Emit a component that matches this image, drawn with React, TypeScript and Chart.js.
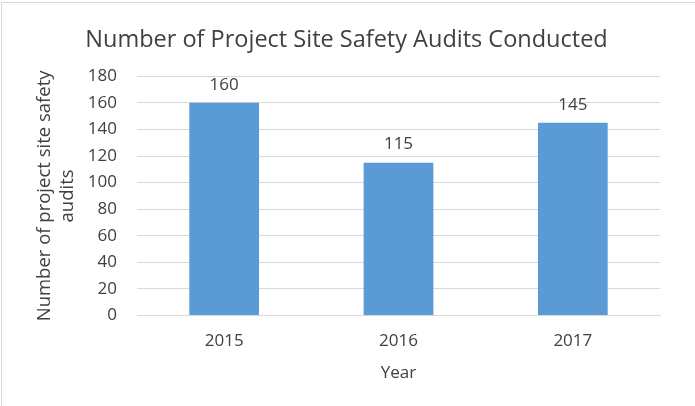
import React, { useEffect, useRef } from "react";
import { Chart, registerables } from "chart.js";

Chart.register(...registerables);

const categories = ["2015", "2016", "2017"];
const audits = [160, 115, 145];
const yTicks = [0, 20, 40, 60, 80, 100, 120, 140, 160, 180];

const FONT = "'Open Sans', 'Noto Sans', sans-serif";
const TEXT = "#404040";

const dataLabels = {
  id: "dataLabels",
  afterDatasetsDraw(chart: any) {
    const ctx = chart.ctx;
    const meta = chart.getDatasetMeta(0);
    ctx.save();
    ctx.font = `17px ${FONT}`;
    ctx.fillStyle = "#404040";
    ctx.textAlign = "center";
    ctx.textBaseline = "middle";
    meta.data.forEach((bar: any, i: number) => {
      ctx.fillText(String(audits[i]), bar.x, bar.y - 18);
    });
    ctx.restore();
  },
};

const frame = {
  id: "frame",
  beforeDraw(chart: any) {
    const ctx = chart.ctx;
    ctx.save();
    ctx.fillStyle = "#ffffff";
    ctx.fillRect(0, 0, chart.width, chart.height);
    ctx.strokeStyle = "#D9D9D9";
    ctx.lineWidth = 1;
    ctx.strokeRect(1.5, 2.5, chart.width - 1, chart.height);
    ctx.restore();
  },
};

export default function App() {
  const ref = useRef<HTMLCanvasElement>(null);
  useEffect(() => {
    if (!ref.current) return;
    const chart = new Chart(ref.current, {
      type: "bar",
      data: {
        labels: categories,
        datasets: [
          {
            data: audits,
            backgroundColor: "#5B9BD5",
            borderWidth: 0,
            categoryPercentage: 1,
            barPercentage: 0.4,
          },
        ],
      },
      options: {
        animation: false,
        responsive: false,
        layout: { padding: { left: 33, right: 35, top: 0, bottom: 24 } },
        plugins: {
          legend: { display: false },
          tooltip: { enabled: false },
          title: {
            display: true,
            text: "Number of Project Site Safety Audits Conducted",
            color: TEXT,
            font: { family: FONT, size: 23.5, weight: "normal" },
            padding: { top: 26, bottom: 22 },
          },
        },
        scales: {
          x: {
            grid: { display: false, drawTicks: false },
            border: { display: true, color: "#D9D9D9", width: 1 },
            ticks: {
              color: TEXT,
              font: { family: FONT, size: 17 },
              padding: 15,
            },
            title: {
              display: true,
              text: "Year",
              color: TEXT,
              font: { family: FONT, size: 17, lineHeight: 1 },
              padding: { top: -1, bottom: 0 },
            },
          },
          y: {
            min: 0,
            max: 180,
            afterBuildTicks(scale: any) {
              scale.ticks = yTicks.map((v) => ({ value: v }));
            },
            afterFit(scale: any) {
              scale.width = 104;
            },
            grid: { color: "#D9D9D9", drawTicks: false },
            border: { display: false },
            ticks: {
              color: TEXT,
              font: { family: FONT, size: 17 },
              padding: 20,
            },
            title: {
              display: true,
              text: ["Number of project site safety", "audits"],
              color: TEXT,
              font: { family: FONT, size: 18.5, lineHeight: 1.25 },
              padding: { top: 0, bottom: 0 },
            },
          },
        },
      },
      plugins: [frame, dataLabels],
    });
    return () => chart.destroy();
  }, []);
  return (
    <div style={{ position: "fixed", left: 0, top: 0, width: 695, height: 406 }}>
      <canvas ref={ref} width={695} height={406} style={{ display: "block" }} />
    </div>
  );
}
